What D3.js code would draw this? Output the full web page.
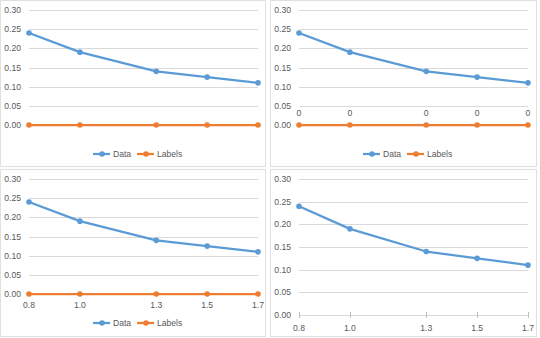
<!DOCTYPE html>
<html>
<head>
<meta charset="utf-8">
<script src="https://cdn.jsdelivr.net/npm/d3@7"></script>
<style>
  html, body { margin: 0; padding: 0; background: #fff; }
  svg { display: block; }
  text { font-family: "Liberation Sans", Arial, sans-serif; fill: #595959; }
</style>
</head>
<body>
<svg id="chart" width="540" height="338"></svg>
<script>
// Shared data for the four chart variants
const xValues = [0.8, 1.0, 1.3, 1.5, 1.7];
const xTickLabels = ["0.8", "1.0", "1.3", "1.5", "1.7"];
const dataValues = [0.24, 0.19, 0.14, 0.125, 0.11];
const labelValues = [0, 0, 0, 0, 0];
const yTicks = [0, 0.05, 0.10, 0.15, 0.20, 0.25, 0.30];
const seriesNames = ["Data", "Labels"];

const BLUE = "#5b9bd5", ORANGE = "#ed7d31", GRID = "#d9d9d9";
const svg = d3.select("#chart");
const fmt = d3.format(".2f");
const FS = 8.6;

// Panel layout: origin, plot extent and which pieces each variant shows
const panels = [
  { ox: 0,   oy: 0,   w: 266, h: 167, plotBottom: 125, legend: true,  labels: false, xLabels: false, orange: true,  ticks: false },
  { ox: 270, oy: 0,   w: 267, h: 167, plotBottom: 125, legend: true,  labels: true,  xLabels: false, orange: true,  ticks: false },
  { ox: 0,   oy: 169, w: 266, h: 168, plotBottom: 125, legend: true,  labels: false, xLabels: true,  orange: true,  ticks: false },
  { ox: 270, oy: 169, w: 267, h: 168, plotBottom: 146, legend: false, labels: false, xLabels: true,  orange: false, ticks: true }
];

panels.forEach(p => {
  const g = svg.append("g").attr("transform", `translate(${p.ox},${p.oy})`);

  // chart area border
  g.append("rect")
    .attr("x", 0.5).attr("y", 0.5)
    .attr("width", p.w - 1).attr("height", p.h - 1)
    .attr("fill", "#fff").attr("stroke", "#e0e0e0").attr("stroke-width", 1);

  const x = d3.scaleLinear().domain([0.8, 1.7]).range([29, 258]);
  const y = d3.scaleLinear().domain([0, 0.30]).range([p.plotBottom, 10]);

  // horizontal gridlines
  g.selectAll("line.grid").data(yTicks).join("line")
    .attr("class", "grid")
    .attr("x1", 29).attr("x2", 258)
    .attr("y1", d => Math.round(y(d)) + 0.5).attr("y2", d => Math.round(y(d)) + 0.5)
    .attr("stroke", GRID).attr("stroke-width", 1);

  // y-axis labels
  g.selectAll("text.ytick").data(yTicks).join("text")
    .attr("class", "ytick")
    .attr("x", 21).attr("y", d => y(d) + 3.1)
    .attr("text-anchor", "end")
    .attr("font-size", FS)
    .text(d => fmt(d));

  // category tick marks
  if (p.ticks) {
    g.selectAll("line.xtick").data(xValues).join("line")
      .attr("class", "xtick")
      .attr("x1", d => Math.round(x(d)) + 0.5).attr("x2", d => Math.round(x(d)) + 0.5)
      .attr("y1", p.plotBottom - 3).attr("y2", p.plotBottom + 3)
      .attr("stroke", "#bfbfbf").attr("stroke-width", 1);
  }

  // x-axis labels
  if (p.xLabels) {
    const ly = p.ticks ? p.plotBottom + 16 : p.plotBottom + 14;
    g.selectAll("text.xlab").data(xValues).join("text")
      .attr("class", "xlab")
      .attr("x", d => x(d)).attr("y", ly)
      .attr("text-anchor", "middle")
      .attr("font-size", FS)
      .text((d, i) => xTickLabels[i]);
  }

  const line = d3.line().x(d => x(d[0])).y(d => y(d[1]));

  const series = [{ values: dataValues, color: BLUE }];
  if (p.orange) series.push({ values: labelValues, color: ORANGE });

  series.forEach(s => {
    const pts = xValues.map((xv, i) => [xv, s.values[i]]);
    g.append("path").datum(pts)
      .attr("d", line)
      .attr("fill", "none")
      .attr("stroke", s.color)
      .attr("stroke-width", 2.25)
      .attr("stroke-linejoin", "round");
    g.selectAll(null).data(pts).join("circle")
      .attr("cx", d => x(d[0])).attr("cy", d => y(d[1]))
      .attr("r", 2.8)
      .attr("fill", s.color);
  });

  // data labels above the Labels series
  if (p.labels) {
    g.selectAll("text.dlab").data(labelValues).join("text")
      .attr("class", "dlab")
      .attr("x", (d, i) => x(xValues[i])).attr("y", d => y(d) - 9)
      .attr("text-anchor", "middle")
      .attr("font-size", FS)
      .text(d => d);
  }

  // legend
  if (p.legend) {
    const lg = g.append("g").attr("transform", `translate(0,154)`);
    const items = [
      { name: seriesNames[0], color: BLUE, x0: 93 },
      { name: seriesNames[1], color: ORANGE, x0: 137 }
    ];
    items.forEach(it => {
      lg.append("line")
        .attr("x1", it.x0).attr("x2", it.x0 + 17)
        .attr("y1", 0).attr("y2", 0)
        .attr("stroke", it.color).attr("stroke-width", 2.25);
      lg.append("circle")
        .attr("cx", it.x0 + 9).attr("cy", 0).attr("r", 2.8)
        .attr("fill", it.color);
      lg.append("text")
        .attr("x", it.x0 + 20).attr("y", 3.1)
        .attr("font-size", FS)
        .text(it.name);
    });
  }
});
</script>
</body>
</html>
